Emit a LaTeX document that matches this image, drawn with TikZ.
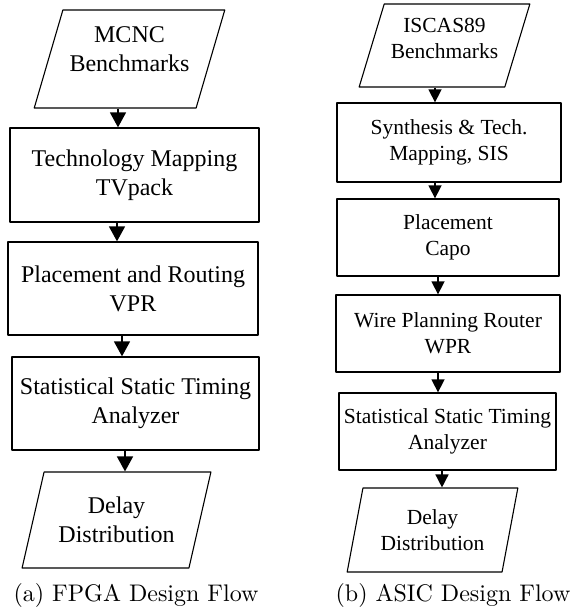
\documentclass[tikz,border=0pt]{standalone}
\usepackage{fontspec}
\setmainfont{Liberation Serif}
\newfontfamily\capfont{Latin Modern Roman}
\usetikzlibrary{arrows.meta,shapes.geometric}

\begin{document}
\begin{tikzpicture}[x=1pt,y=-1pt,line join=round,
  box/.style={draw,line width=1.3pt,rectangle,inner sep=0pt,align=center},
  data/.style={draw,line width=1.1pt,trapezium,trapezium stretches=true,inner sep=0pt,align=center},
  flowL/.style={-{Triangle[width=16pt,length=15pt]},line width=1.6pt},
  flowR/.style={-{Triangle[width=13pt,length=13pt]},line width=1.5pt},
  bigtxt/.style={font=\fontsize{24}{29}\selectfont},
  smalltxt/.style={font=\fontsize{21.5}{26}\selectfont},
  captxt/.style={font=\capfont\fontsize{10}{12}\selectfont,scale=2.4}]
  \useasboundingbox (0,0) rectangle (572,612);
  % FPGA flow
  \node[data,bigtxt,text depth=19pt,minimum width=191pt,minimum height=98pt,trapezium left angle=68,trapezium right angle=112] (MCNC) at (129.5,59) {MCNC\\Benchmarks};
  \node[box,bigtxt,minimum width=249pt,minimum height=94pt] (TM) at (134.5,175) {Technology Mapping\\TVpack};
  \node[box,bigtxt,minimum width=250pt,minimum height=93pt] (PR) at (133,288.5) {Placement and Routing\\VPR};
  \node[box,bigtxt,minimum width=247pt,minimum height=93pt] (SSTA) at (135.5,403.5) {Statistical Static Timing\\Analyzer};
  \node[data,bigtxt,minimum width=189pt,minimum height=96pt,trapezium left angle=69,trapezium right angle=111] (DD) at (116.5,520) {Delay\\Distribution};
  \node[captxt] (CAPA) at (136,595) {(a) FPGA Design Flow};
  \draw[flowL] (MCNC.south -| 118,0) -- (TM.north -| 118,0);
  \draw[flowL] (TM.south -| 117,0) -- (PR.north -| 117,0);
  \draw[flowL] (PR.south -| 122,0) -- (SSTA.north -| 122,0);
  \draw[flowL] (SSTA.south -| 125,0) -- (DD.north -| 125,0);
  % ASIC flow
  \node[data,smalltxt,text depth=15pt,minimum width=171pt,minimum height=83pt,trapezium left angle=68,trapezium right angle=112] (ISCAS) at (444.5,45.5) {ISCAS89\\Benchmarks};
  \node[box,smalltxt,minimum width=224pt,minimum height=79pt] (SYN) at (449,142.5) {Synthesis \& Tech.\\Mapping, SIS};
  \node[box,smalltxt,minimum width=222pt,minimum height=77pt] (CAPO) at (448,237.5) {Placement\\Capo};
  \node[box,smalltxt,minimum width=224pt,minimum height=77pt] (WPR) at (448,333.5) {Wire Planning Router\\WPR};
  \node[box,smalltxt,minimum width=217pt,minimum height=77pt] (SSTAB) at (447.5,431.5) {Statistical Static Timing\\Analyzer};
  \node[data,smalltxt,minimum width=171pt,minimum height=84pt,trapezium left angle=74,trapezium right angle=106] (DDB) at (432.5,530) {Delay\\Distribution};
  \node[captxt] (CAPB) at (453,595) {(b) ASIC Design Flow};
  \draw[flowR] (ISCAS.south -| 435,0) -- (SYN.north -| 435,0);
  \draw[flowR] (SYN.south -| 435,0) -- (CAPO.north -| 435,0);
  \draw[flowR] (CAPO.south -| 438,0) -- (WPR.north -| 438,0);
  \draw[flowR] (WPR.south -| 438,0) -- (SSTAB.north -| 438,0);
  \draw[flowR] (SSTAB.south -| 442,0) -- (DDB.north -| 442,0);
\end{tikzpicture}
\end{document}
